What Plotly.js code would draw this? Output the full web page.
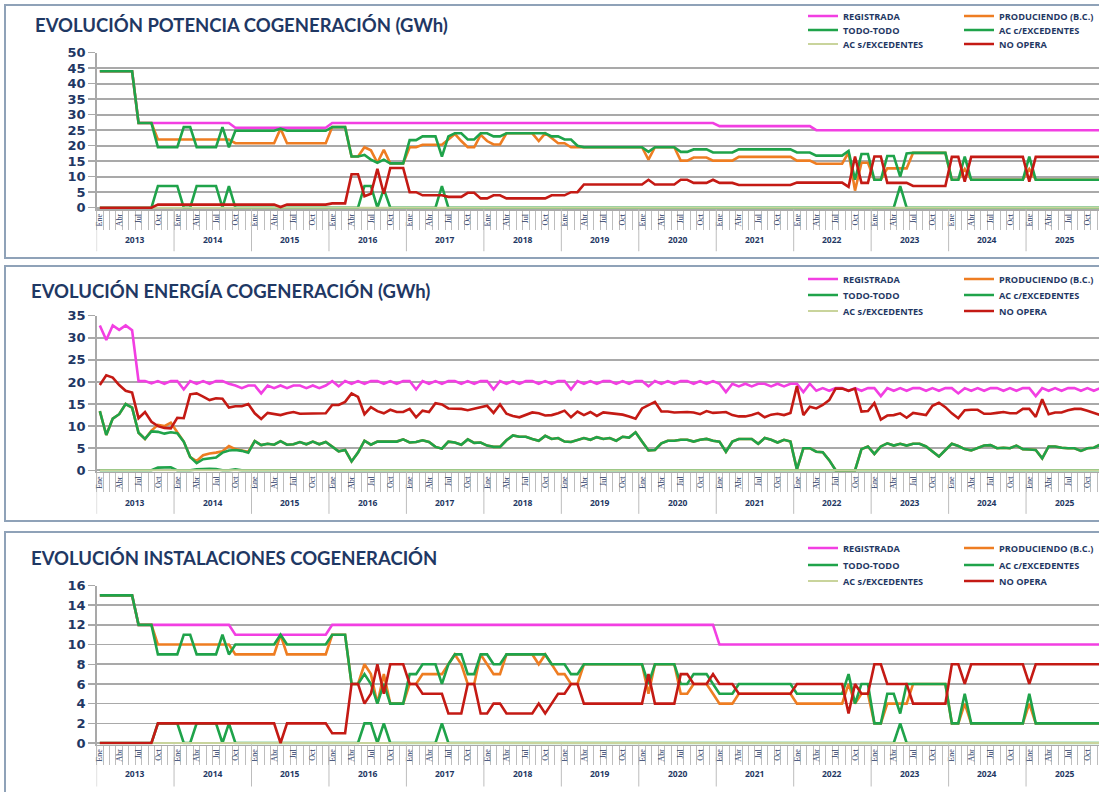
<!DOCTYPE html>
<html><head><meta charset="utf-8">
<script src="https://cdn.plot.ly/plotly-3.0.1.min.js"></script>
<style>html,body{margin:0;padding:0;background:#fff;overflow:hidden}#chart{width:1099px;height:792px}</style>
</head><body><div id="chart"></div>
<script>
// ---------- categories ----------
const YEARS = [2013,2014,2015,2016,2017,2018,2019,2020,2021,2022,2023,2024,2025];
const MONTH_LABELS = ['Ene','Abr','Jul','Oct'];
const SERIES_NAMES = ['REGISTRADA','PRODUCIENDO (B.C.)','TODO-TODO','AC c/EXCEDENTES','AC s/EXCEDENTES','NO OPERA'];
const SERIES_COLORS = ['#f23fe2','#ee7d22','#1fa34a','#1fa34a','#c9d49c','#c41a14'];
const PANEL_TITLES = ['EVOLUCIÓN POTENCIA COGENERACIÓN (GWh)','EVOLUCIÓN ENERGÍA COGENERACIÓN (GWh)','EVOLUCIÓN INSTALACIONES COGENERACIÓN'];

// ---------- panel 1: potencia ----------
const P_REG = [
44,44,44,44,44,44,27.3,27.3,27.3,27.3,27.3,27.3,
27.3,27.3,27.3,27.3,27.3,27.3,27.3,27.3,27.3,25.8,25.8,25.8,
25.8,25.8,25.8,25.8,25.8,25.8,25.8,25.8,25.8,25.8,25.8,25.8,
27.3,27.3,27.3,27.3,27.3,27.3,27.3,27.3,27.3,27.3,27.3,27.3,
27.3,27.3,27.3,27.3,27.3,27.3,27.3,27.3,27.3,27.3,27.3,27.3,
27.3,27.3,27.3,27.3,27.3,27.3,27.3,27.3,27.3,27.3,27.3,27.3,
27.3,27.3,27.3,27.3,27.3,27.3,27.3,27.3,27.3,27.3,27.3,27.3,
27.3,27.3,27.3,27.3,27.3,27.3,27.3,27.3,27.3,27.3,27.3,27.3,
26.3,26.3,26.3,26.3,26.3,26.3,26.3,26.3,26.3,26.3,26.3,26.3,
26.3,26.3,26.3,25,25,25,25,25,25,25,25,25,
25,25,25,25,25,25,25,25,25,25,25,25,
25,25,25,25,25,25,25,25,25,25,25,25,
25,25,25,25,25,25,25,25,25,25,25,25];
const P_PROD = [
44,44,44,44,44,44,27.3,27.3,27.3,22,22,22,
22,22,22,22,22,22,22,22,22,20.8,20.8,20.8,
20.8,20.8,20.8,20.8,25.5,20.8,20.8,20.8,20.8,20.8,20.8,20.8,
26,26,26,16.5,16.5,19.5,18.5,14.5,18.7,14.3,14.3,14.3,
19.5,19.5,20.3,20.3,20.3,20.3,22,23.8,21.5,19.5,19.5,23.5,
21.5,20.4,20.4,24,24,24,24,24,21.5,24,22.5,20.8,
20.8,19.5,19.5,19.5,19.5,19.5,19.5,19.5,19.5,19.5,19.5,19.5,
19.5,15.5,19.5,19.5,19.5,19.5,15.2,15.2,16.2,16.2,16.2,15.2,
15.2,15.2,15.2,16.4,16.4,16.4,16.4,16.4,16.4,16.4,16.4,16.4,
15.2,15.2,15.2,14.2,14.2,14.2,14.2,14.2,17.8,5.5,14.5,14.5,
9,9,12.7,12.7,12.7,12.7,17.7,17.7,17.7,17.7,17.7,17.7,
9,9,12.5,9,9,9,9,9,9,9,9,9,
12.5,9,9,9,9,9,9,9,9,9,9,9];
const P_TODO = [
44,44,44,44,44,44,27.3,27.3,27.3,19.5,19.5,19.5,
19.5,26,26,19.5,19.5,19.5,19.5,26,19.5,24.8,24.8,24.8,
24.8,24.8,24.8,24.8,25.5,24.8,24.8,24.8,24.8,24.8,24.8,24.8,
26,26,26,16.5,16.5,17,15.5,14.5,15.5,14.3,14.3,14.3,
21.8,21.8,23,23,23,16.5,23,24,24,22,22,24,
24,23,23,24,24,24,24,24,24,24,23,23,
22,22,20,19.5,19.5,19.5,19.5,19.5,19.5,19.5,19.5,19.5,
19.5,18,19.5,19.5,19.5,19.5,18,18,18.8,18.8,18.8,17.8,
17.8,17.8,17.8,18.8,18.8,18.8,18.8,18.8,18.8,18.8,18.8,18.8,
17.8,17.8,17.8,16.8,16.8,16.8,16.8,16.8,18.3,9,17.3,17.3,
9,9,16.7,16.7,10,17.5,17.7,17.7,17.7,17.7,17.7,17.7,
9,9,16.5,9,9,9,9,9,9,9,9,9,
16.5,9,9,9,9,9,9,9,9,9,9,9];
const P_ACC = [
0,0,0,0,0,0,0,0,0,7,7,7,
7,0,0,7,7,7,7,0,7,0,0,0,
0,0,0,0,0,0,0,0,0,0,0,0,
0,0,0,0,0,7,7,0,6,0,0,0,
0,0,0,0,0,7,0,0,0,0,0,0,
0,0,0,0,0,0,0,0,0,0,0,0,
0,0,0,0,0,0,0,0,0,0,0,0,
0,0,0,0,0,0,0,0,0,0,0,0,
0,0,0,0,0,0,0,0,0,0,0,0,
0,0,0,0,0,0,0,0,0,0,0,0,
0,0,0,0,7,0,0,0,0,0,0,0,
0,0,0,0,0,0,0,0,0,0,0,0,
0,0,0,0,0,0,0,0,0,0,0,0];
const P_ACS = [
0,0,0,0,0,0,0,0,0,0,0,0, 0,0,0,0,0,0,0,0,0,0,0,0, 0,0,0,0,0,0,0,0,0,0,0,0,
0,0,0,0,0,0,0,0,0,0,0,0, 0,0,0,0,0,0,0,0,0,0,0,0, 0,0,0,0,0,0,0,0,0,0,0,0,
0,0,0,0,0,0,0,0,0,0,0,0, 0,0,0,0,0,0,0,0,0,0,0,0, 0,0,0,0,0,0,0,0,0,0,0,0,
0,0,0,0,0,0,0,0,0,0,0,0, 0,0,0,0,0,0,0,0,0,0,0,0, 0,0,0,0,0,0,0,0,0,0,0,0,
0,0,0,0,0,0,0,0,0,0,0,0];
const P_NO = [
0,0,0,0,0,0,0,0,0,1,1,1,
1,1,1,1,1,1,1,1,1,1,1,1,
1,1,1,1,0.2,1,1,1,1,1,1,1,
1.4,1.4,1.4,10.8,10.8,3.7,4.5,12.5,4.5,12.8,12.8,12.8,
5,5,4,4,4,4,3.5,3.5,3.5,4.8,4.8,3,
3,4,4,3,3,3,3,3,3,3,4,4,
4,5,5,7.5,7.5,7.5,7.5,7.5,7.5,7.5,7.5,7.5,
7.5,9,7.5,7.5,7.5,7.5,9,9,8,8,8,9,
8,8,8,7.3,7.3,7.3,7.3,7.3,7.3,7.3,7.3,7.3,
8.1,8.1,8.1,8.1,8.1,8.1,8.1,8.1,6.7,16.5,8,8,
16.5,16.5,8,8,8,8,7,7,7,7,7,7,
16.4,16.4,8.4,16.4,16.4,16.4,16.4,16.4,16.4,16.4,16.4,16.4,
8.4,16.4,16.4,16.4,16.4,16.4,16.4,16.4,16.4,16.4,16.4,16.4];

// ---------- panel 2: energia ----------
const E_REG = [
32.8,29.5,32.8,31.8,32.8,31.7,20.2,20.2,19.7,20.2,19.6,20.2,
20.2,18.3,20.2,19.6,20.2,19.6,20.2,20.2,19.6,19.2,18.6,19.2,
19.2,17.4,19.2,18.6,19.2,18.6,19.2,19.2,18.6,19.2,18.6,19.2,
20.2,19,20.2,19.6,20.2,19.6,20.2,20.2,19.6,20.2,19.6,20.2,
20.2,18.3,20.2,19.6,20.2,19.6,20.2,20.2,19.6,20.2,19.6,20.2,
20.2,18.3,20.2,19.6,20.2,19.6,20.2,20.2,19.6,20.2,19.6,20.2,
20.2,18.3,20.2,19.6,20.2,19.6,20.2,20.2,19.6,20.2,19.6,20.2,
20.2,19,20.2,19.6,20.2,19.6,20.2,20.2,19.6,20.2,19.6,20.2,
19.6,17.7,19.6,19,19.6,19,19.6,19.6,19,19.6,19,19.6,
19.6,17.7,19.6,18,18.6,18,18.6,18.6,18,18.6,18,18.6,
18.6,16.8,18.6,18,18.6,18,18.6,18.6,18,18.6,18,18.6,
18.6,17.4,18.6,18,18.6,18,18.6,18.6,18,18.6,18,18.6,
18.6,16.8,18.6,18,18.6,18,18.6,18.6,18,18.6,18,18.6];
const E_TODO = [
13.4,8,11.7,12.7,15,14.2,8.5,7.1,8.8,8.7,8.3,8.6,
8.4,6.5,3,1.6,2.5,2.7,2.9,4,4.5,4.6,4.4,4,
6.6,5.7,6,5.8,6.6,5.8,5.9,6.4,5.9,6.5,5.9,6.4,
5.4,4.3,4.6,2,4,6.7,5.8,6.5,6.5,6.5,6.5,7,
6.3,6.4,6.8,6.4,5.3,4.9,6.5,6.3,5.8,7,6.2,6.3,
5.6,5.3,5.3,6.8,7.9,7.6,7.6,7.1,6.7,7.8,7.1,7.3,
6.5,6.4,6.8,7.3,6.9,7.5,7.1,7.3,6.7,7.6,7.4,8.6,
6.5,4.5,4.6,6.1,6.7,6.7,6.9,6.9,6.5,6.9,7.1,6.7,
6.5,4.2,6.5,7.1,7.1,7.1,6,7.3,6.9,6.3,6.9,6.5,
0.2,5,5,4.2,4.1,2.3,0,0,0,0,4.8,5.4,
3.7,5.4,6.1,5.6,6,5.6,6,6,5.4,4.3,3.1,4.6,
6,5.5,4.8,4.5,5,5.6,5.7,5,5.1,5,5.6,4.8,
4.7,4.6,2.7,5.4,5.4,5.1,5,5,4.4,5,5.1,5.8];
const E_PROD = [
13.4,8,11.7,12.7,15,14.2,8.5,7.1,9,10.3,10,10.8,
8.6,6.5,3,2.1,3.4,3.8,4,4.3,5.5,4.8,4.5,4.2,
6.6,5.7,6,5.8,6.6,5.8,5.9,6.4,5.9,6.5,5.9,6.4,
5.4,4.3,4.6,2,4,6.7,5.8,6.5,6.5,6.5,6.5,7,
6.3,6.4,6.8,6.4,5.3,4.9,6.5,6.3,5.8,7,6.2,6.3,
5.6,5.3,5.3,6.8,7.9,7.6,7.6,7.1,6.7,7.8,7.1,7.3,
6.5,6.4,6.8,7.3,6.9,7.5,7.1,7.3,6.7,7.6,7.4,8.6,
6.5,4.5,4.6,6.1,6.7,6.7,6.9,6.9,6.5,6.9,7.1,6.7,
6.5,4.2,6.5,7.1,7.1,7.1,6,7.3,6.9,6.3,6.9,6.5,
0.2,5,5,4.2,4.1,2.3,0,0,0,0,4.8,5.4,
3.7,5.4,6.1,5.6,6,5.6,6,6,5.4,4.3,3.1,4.6,
6,5.5,4.8,4.5,5,5.6,5.7,5,5.1,5,5.6,4.8,
4.7,4.6,2.7,5.4,5.4,5.1,5,5,4.4,5,5.1,5.8];
const E_ACC = [
0,0,0,0,0,0,0,0,0,0.6,0.7,0.7,
0,0,0,0.2,0.3,0.35,0.3,0,0,0.2,0,0,
0,0,0,0,0,0,0,0,0,0,0,0, 0,0,0,0,0,0,0,0,0,0,0,0,
0,0,0,0,0,0,0,0,0,0,0,0, 0,0,0,0,0,0,0,0,0,0,0,0,
0,0,0,0,0,0,0,0,0,0,0,0, 0,0,0,0,0,0,0,0,0,0,0,0,
0,0,0,0,0,0,0,0,0,0,0,0, 0,0,0,0,0,0,0,0,0,0,0,0,
0,0,0,0,0,0,0,0,0,0,0,0, 0,0,0,0,0,0,0,0,0,0,0,0,
0,0,0,0,0,0,0,0,0,0,0,0];
const E_ACS = [
0,0,0,0,0,0,0,0,0,0,0,0, 0,0,0,0,0,0,0,0,0,0,0,0, 0,0,0,0,0,0,0,0,0,0,0,0,
0,0,0,0,0,0,0,0,0,0,0,0, 0,0,0,0,0,0,0,0,0,0,0,0, 0,0,0,0,0,0,0,0,0,0,0,0,
0,0,0,0,0,0,0,0,0,0,0,0, 0,0,0,0,0,0,0,0,0,0,0,0, 0,0,0,0,0,0,0,0,0,0,0,0,
0,0,0,0,0,0,0,0,0,0,0,0, 0,0,0,0,0,0,0,0,0,0,0,0, 0,0,0,0,0,0,0,0,0,0,0,0,
0,0,0,0,0,0,0,0,0,0,0,0];
const E_NO = [
19.3,21.5,21,19.3,18,17.6,11.8,13.2,11,10,9.6,9.5,
11.9,11.8,17.2,17.4,16.7,15.9,16.3,16.2,14.2,14.5,14.5,15,
12.9,11.6,13,12.8,12.5,12.9,13.2,12.8,12.8,12.8,12.9,12.9,
14.8,14.8,15.5,17.4,16.6,12.7,14.3,13.4,12.9,13.7,13.2,13.2,
13.9,12,13.5,13.2,15.2,14.9,14,14,13.9,13.6,13.9,14.2,
14.6,13,14.9,12.8,12.3,12,12.6,13.1,12.9,12.4,12.5,12.9,
13.5,12,13.3,12.5,13.2,12.3,13.1,12.9,12.8,12.6,12.2,11.7,
14,14.8,15.5,13.3,13.3,13.1,13.2,13.2,13.1,12.7,13.4,13,
13.1,13.2,12.5,12.2,12.2,12.5,13,12,12.6,12.8,12.5,13,
19.1,12.5,14.4,14,14.8,15.9,18.5,18.5,18,18.5,13.3,13.4,
15.2,11.5,12.4,12.5,12.9,11.9,13,12.7,12.5,14.6,15.3,14.3,
12.9,11.8,13.6,13.7,13.7,12.8,12.8,13,13.2,12.9,12.9,13.9,
13.9,12.1,16.1,12.7,13.1,13.1,13.6,13.9,13.9,13.5,13,12.5];

// ---------- panel 3: instalaciones ----------
const I_REG = [
15,15,15,15,15,15,12,12,12,12,12,12,
12,12,12,12,12,12,12,12,12,11,11,11,
11,11,11,11,11,11,11,11,11,11,11,11,
12,12,12,12,12,12,12,12,12,12,12,12,
12,12,12,12,12,12,12,12,12,12,12,12,
12,12,12,12,12,12,12,12,12,12,12,12,
12,12,12,12,12,12,12,12,12,12,12,12,
12,12,12,12,12,12,12,12,12,12,12,12,
10,10,10,10,10,10,10,10,10,10,10,10,
10,10,10,10,10,10,10,10,10,10,10,10,
10,10,10,10,10,10,10,10,10,10,10,10,
10,10,10,10,10,10,10,10,10,10,10,10,
10,10,10,10,10,10,10,10,10,10,10,10];
const I_PROD = [
15,15,15,15,15,15,12,12,12,10,10,10,
10,10,10,10,10,10,10,10,10,9,9,9,
9,9,9,9,11,9,9,9,9,9,9,9,
11,11,11,6,6,8,7,4,7,4,4,4,
6,6,7,7,7,7,8,9,8,6,6,9,
8,7,7,9,9,9,9,9,8,9,8,7,
7,6,6,8,8,8,8,8,8,8,8,8,
8,5,8,8,8,8,5,5,6,6,6,5,
4,4,4,5,5,5,5,5,5,5,5,5,
4,4,4,4,4,4,4,4,6,4,5,5,
2,2,4,4,4,4,6,6,6,6,6,6,
2,2,4,2,2,2,2,2,2,2,2,2,
4,2,2,2,2,2,2,2,2,2,2,2];
const I_TODO = [
15,15,15,15,15,15,12,12,12,9,9,9,
9,11,11,9,9,9,9,11,9,10,10,10,
10,10,10,10,11,10,10,10,10,10,10,10,
11,11,11,6,6,7,6,4,6,4,4,4,
7,7,8,8,8,6,8,9,9,7,7,9,
9,8,8,9,9,9,9,9,9,9,8,8,
8,7,7,8,8,8,8,8,8,8,8,8,
8,6,8,8,8,8,6,6,7,7,7,6,
5,5,5,6,6,6,6,6,6,6,6,6,
5,5,5,5,5,5,5,5,7,4,6,6,
2,2,5,5,3,6,6,6,6,6,6,6,
2,2,5,2,2,2,2,2,2,2,2,2,
5,2,2,2,2,2,2,2,2,2,2,2];
const I_ACC = [
0,0,0,0,0,0,0,0,0,2,2,2,
2,0,0,2,2,2,2,0,2,0,0,0,
0,0,0,0,0,0,0,0,0,0,0,0,
0,0,0,0,0,2,2,0,2,0,0,0,
0,0,0,0,0,2,0,0,0,0,0,0,
0,0,0,0,0,0,0,0,0,0,0,0,
0,0,0,0,0,0,0,0,0,0,0,0,
0,0,0,0,0,0,0,0,0,0,0,0,
0,0,0,0,0,0,0,0,0,0,0,0,
0,0,0,0,0,0,0,0,0,0,0,0,
0,0,0,0,2,0,0,0,0,0,0,0,
0,0,0,0,0,0,0,0,0,0,0,0,
0,0,0,0,0,0,0,0,0,0,0,0];
const I_ACS = [
0,0,0,0,0,0,0,0,0,0,0,0, 0,0,0,0,0,0,0,0,0,0,0,0, 0,0,0,0,0,0,0,0,0,0,0,0,
0,0,0,0,0,0,0,0,0,0,0,0, 0,0,0,0,0,0,0,0,0,0,0,0, 0,0,0,0,0,0,0,0,0,0,0,0,
0,0,0,0,0,0,0,0,0,0,0,0, 0,0,0,0,0,0,0,0,0,0,0,0, 0,0,0,0,0,0,0,0,0,0,0,0,
0,0,0,0,0,0,0,0,0,0,0,0, 0,0,0,0,0,0,0,0,0,0,0,0, 0,0,0,0,0,0,0,0,0,0,0,0,
0,0,0,0,0,0,0,0,0,0,0,0];
const I_NO = [
0,0,0,0,0,0,0,0,0,2,2,2,
2,2,2,2,2,2,2,2,2,2,2,2,
2,2,2,2,0,2,2,2,2,2,2,2,
1,1,1,6,6,4,5,8,5,8,8,8,
6,6,5,5,5,5,3,3,3,6,6,3,
3,4,4,3,3,3,3,3,4,3,4,5,
5,6,6,4,4,4,4,4,4,4,4,4,
4,7,4,4,4,4,7,7,6,6,6,7,
6,6,6,5,5,5,5,5,5,5,5,5,
6,6,6,6,6,6,6,6,3,6,5,5,
8,8,6,6,6,6,4,4,4,4,4,4,
8,8,6,8,8,8,8,8,8,8,8,8,
6,8,8,8,8,8,8,8,8,8,8,8];

const PANELS = [
  {title: PANEL_TITLES[0], series: [P_REG,P_PROD,P_TODO,P_ACC,P_ACS,P_NO], range:[-0.5,50], dtick:5},
  {title: PANEL_TITLES[1], series: [E_REG,E_PROD,E_TODO,E_ACC,E_ACS,E_NO], range:[-0.35,35], dtick:5},
  {title: PANEL_TITLES[2], series: [I_REG,I_PROD,I_TODO,I_ACC,I_ACS,I_NO], range:[-0.15,16], dtick:2}
];

// ---------- geometry / style ----------
const W = 1099, H = 792;
const px = v => v / W, py = v => 1 - v / H;
const NAVY = '#1f3864', GRID = '#a9a9a9', FRAME = '#8fa2b8';
const PLOT_TOP = [52.7, 315.7, 585.5];       // px of top gridline
const PLOT_BOT = [209.25, 471.85, 744.5];    // px of range bottom
const TITLE_Y = [25, 291, 558];
const TITLE_X = [33, 29, 29];
const YEAR_Y = [240, 503, 773];
const LEG_Y = [[16,30,44],[279,295,311],[548,565,581]];
const FRAMES = [[5,258],[266,521],[532,805]];

const N = P_REG.length;
const X = Array.from({length: N}, (_, i) => i);
const tickvals = [], ticktext = [];
YEARS.forEach((y, yi) => MONTH_LABELS.forEach((m, q) => { tickvals.push(yi*12 + q*3); ticktext.push(m); }));

const data = [], layout = {
  width: W, height: H, margin: {l:0, r:0, t:0, b:0, autoexpand: false},
  paper_bgcolor: '#fff', plot_bgcolor: '#fff',
  showlegend: true, shapes: [], annotations: [], hovermode: false
};

PANELS.forEach((p, pi) => {
  const sfx = pi === 0 ? '' : String(pi + 1);
  const xa = 'x' + sfx, ya = 'y' + sfx;
  layout['xaxis' + sfx] = {
    domain: [px(96.6), 1], range: [-0.5, 154.8], anchor: ya,
    showgrid: false, zeroline: false, showline: true, linecolor: GRID, linewidth: 1.5,
    tickmode: 'array', tickvals, ticktext, ticks: '', tickangle: -90,
    tickfont: {family: 'Liberation Serif', size: 8, color: NAVY},
    minor: {tickmode: 'linear', tick0: -0.5, dtick: 1, ticks: 'outside', ticklen: 19, tickwidth: 1, tickcolor: '#bdbdbd', showgrid: false},
    fixedrange: true
  };
  layout['yaxis' + sfx] = {
    domain: [py(PLOT_BOT[pi]), py(PLOT_TOP[pi])], range: p.range, anchor: xa,
    tickmode: 'linear', tick0: 0, dtick: p.dtick,
    showgrid: true, gridcolor: GRID, gridwidth: 1.6, zeroline: false,
    showline: true, linecolor: GRID, linewidth: 1.5,
    ticks: 'outside', ticklen: 7, tickcolor: GRID, tickwidth: 1.5,
    tickfont: {family: 'DejaVu Sans', size: 13, color: NAVY, weight: 'bold'},
    fixedrange: true
  };
  // traces
  p.series.forEach((vals, si) => {
    const row = Math.floor(si / 2);
    const lid = pi * 3 + row + 1;
    data.push({
      type: 'scatter', mode: 'lines', x: X, y: vals, xaxis: xa, yaxis: ya,
      name: SERIES_NAMES[si], legend: lid === 1 ? 'legend' : 'legend' + lid,
      line: {color: SERIES_COLORS[si], width: si === 4 ? 2 : 2.6},
      hoverinfo: 'skip'
    });
  });
  // legends (one row each, two entries per row)
  LEG_Y[pi].forEach((yc, r) => {
    const lid = pi * 3 + r + 1;
    layout[lid === 1 ? 'legend' : 'legend' + lid] = {
      orientation: 'h', x: px(803), xanchor: 'left', y: py(yc), yanchor: 'middle',
      bgcolor: 'rgba(0,0,0,0)', borderwidth: 0,
      font: {family: 'Open Sans', size: 9.2, color: NAVY, weight: 'bold'},
      entrywidth: 111, entrywidthmode: 'pixels', itemwidth: 30, traceorder: 'normal'
    };
  });
  // frame
  layout.shapes.push({type: 'rect', xref: 'paper', yref: 'paper', x0: px(5), x1: px(1110),
    y0: py(FRAMES[pi][1]), y1: py(FRAMES[pi][0]), line: {color: FRAME, width: 2}, fillcolor: 'rgba(0,0,0,0)', layer: 'below'});
  // year separators + labels
  for (let k = 0; k <= YEARS.length; k++) {
    layout.shapes.push({type: 'line', xref: xa, yref: 'paper', x0: k*12 - 0.5, x1: k*12 - 0.5,
      y0: py(PLOT_BOT[pi]), y1: py(PLOT_BOT[pi] + 42), line: {color: '#bdbdbd', width: 1}});
  }
  YEARS.forEach((yr, k) => layout.annotations.push({
    xref: xa, yref: 'paper', x: k*12 + 5.5, y: py(YEAR_Y[pi]), text: String(yr), showarrow: false,
    xanchor: 'center', yanchor: 'middle', font: {family: 'Open Sans', size: 8.5, color: NAVY, weight: 'bold'}
  }));
  // title
  layout.annotations.push({xref: 'paper', yref: 'paper', x: px(TITLE_X[pi]), y: py(TITLE_Y[pi]),
    xanchor: 'left', yanchor: 'middle', text: p.title, showarrow: false,
    font: {family: 'Lato', size: 18.5, color: NAVY, weight: 'bold'}});
});

Plotly.newPlot('chart', data, layout, {displayModeBar: false, staticPlot: true});
</script>
</body></html>
